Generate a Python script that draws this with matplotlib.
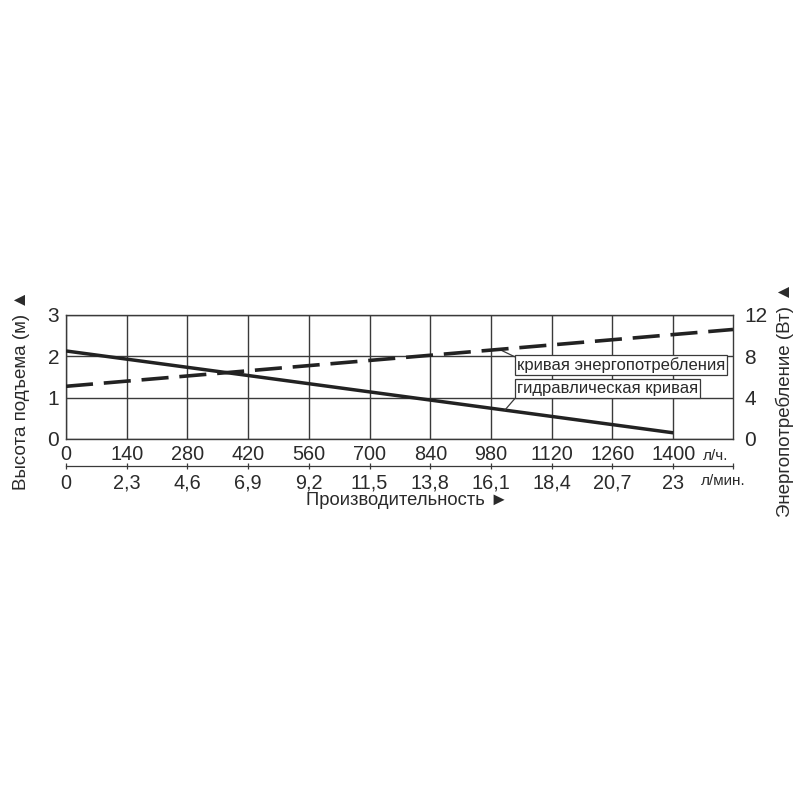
import matplotlib
matplotlib.use("Agg")
import matplotlib.pyplot as plt

plt.rcParams['font.family'] = ['Liberation Sans', 'DejaVu Sans']

# Data
flow_ticks_lph = [0, 140, 280, 420, 560, 700, 840, 980, 1120, 1260, 1400]
flow_ticks_lpm = ["0", "2,3", "4,6", "6,9", "9,2", "11,5", "13,8", "16,1", "18,4", "20,7", "23"]
head_ticks = [0, 1, 2, 3]
power_ticks = [0, 4, 8, 12]

hyd_flow = [0, 1400]
hyd_head = [2.13, 0.15]

pow_flow = [0, 1538]
pow_watt = [5.1, 10.6]

XMAX = 1538
TXT = '#2a2a2a'
GRID = '#3a3a3a'
FS = 14.3

fig = plt.figure(figsize=(8, 8), dpi=100)
ax = fig.add_axes([66/800, 1-439/800, (733-66)/800, 124/800])
ax.set_xlim(0, XMAX)
ax.set_ylim(0, 3)
ax.set_xticks(flow_ticks_lph)
ax.set_xticklabels([str(v) for v in flow_ticks_lph], fontsize=FS, color=TXT)
ax.set_yticks(head_ticks)
ax.set_yticklabels([str(v) for v in head_ticks], fontsize=FS + 0.7, color=TXT)
ax.tick_params(axis='x', length=0, pad=4)
ax.tick_params(axis='y', length=0, pad=5)
ax.grid(True, color=GRID, linewidth=1.0)
for s in ax.spines.values():
    s.set_color(GRID)
    s.set_linewidth(1.0)

ax.plot(hyd_flow, hyd_head, color='#222222', linewidth=2.5, solid_capstyle='butt', zorder=3)

ax2 = ax.twinx()
ax2.set_ylim(0, 12)
ax2.set_yticks(power_ticks)
ax2.set_yticklabels([str(v) for v in power_ticks], fontsize=FS + 0.7, color=TXT)
ax2.tick_params(axis='y', length=0, pad=8)
for s in ax2.spines.values():
    s.set_visible(False)
ax2.plot(pow_flow, pow_watt, color='#222222', linewidth=2.6, dashes=(7.5, 3.0), zorder=3)

# secondary flow scale (l/min)
sec = ax.secondary_xaxis(-0.218)
sec.set_xticks(flow_ticks_lph + [XMAX])
sec.set_xticklabels(flow_ticks_lpm + [""], fontsize=FS, color=TXT)
sec.tick_params(axis='x', direction='inout', length=5, width=0.9, color=GRID, pad=3)
sec.spines['bottom'].set_color(GRID)
sec.spines['bottom'].set_linewidth(0.9)

# unit labels
ax.text(1468, -0.42, "л/ч.", fontsize=11, color=TXT, ha='left', va='center')
ax.text(1465, -1.02, "л/мин.", fontsize=11, color=TXT, ha='left', va='center')

ax.text(0.512, -0.50, "Производительность ►", transform=ax.transAxes, fontsize=13.2,
        color=TXT, ha='center', va='center')

fig.text(22/800, 1-390/800, "Высота подъема (м) ▲", rotation=90, fontsize=13.5,
         color=TXT, ha='center', va='center')
fig.text(785/800, 1-400/800, "Энергопотребление (Вт) ▲", rotation=90, fontsize=13.5,
         color=TXT, ha='center', va='center')

box = dict(boxstyle='square,pad=0.12', facecolor='white', edgecolor=GRID, linewidth=0.9)
ax.annotate("кривая энергопотребления", xy=(1001, 2.16), xytext=(1040, 1.79),
            fontsize=12.0, color=TXT, ha='left', va='center', bbox=box,
            arrowprops=dict(arrowstyle='-', color=GRID, linewidth=0.9,
                            shrinkA=0, shrinkB=0, relpos=(0, 0.95)), zorder=4)
ax.annotate("гидравлическая кривая", xy=(1012, 0.70), xytext=(1040, 1.22),
            fontsize=12.0, color=TXT, ha='left', va='center', bbox=box,
            arrowprops=dict(arrowstyle='-', color=GRID, linewidth=0.9,
                            shrinkA=0, shrinkB=0, relpos=(0, 0.0)), zorder=4)

fig.savefig("out.png", dpi=100, facecolor='white')
